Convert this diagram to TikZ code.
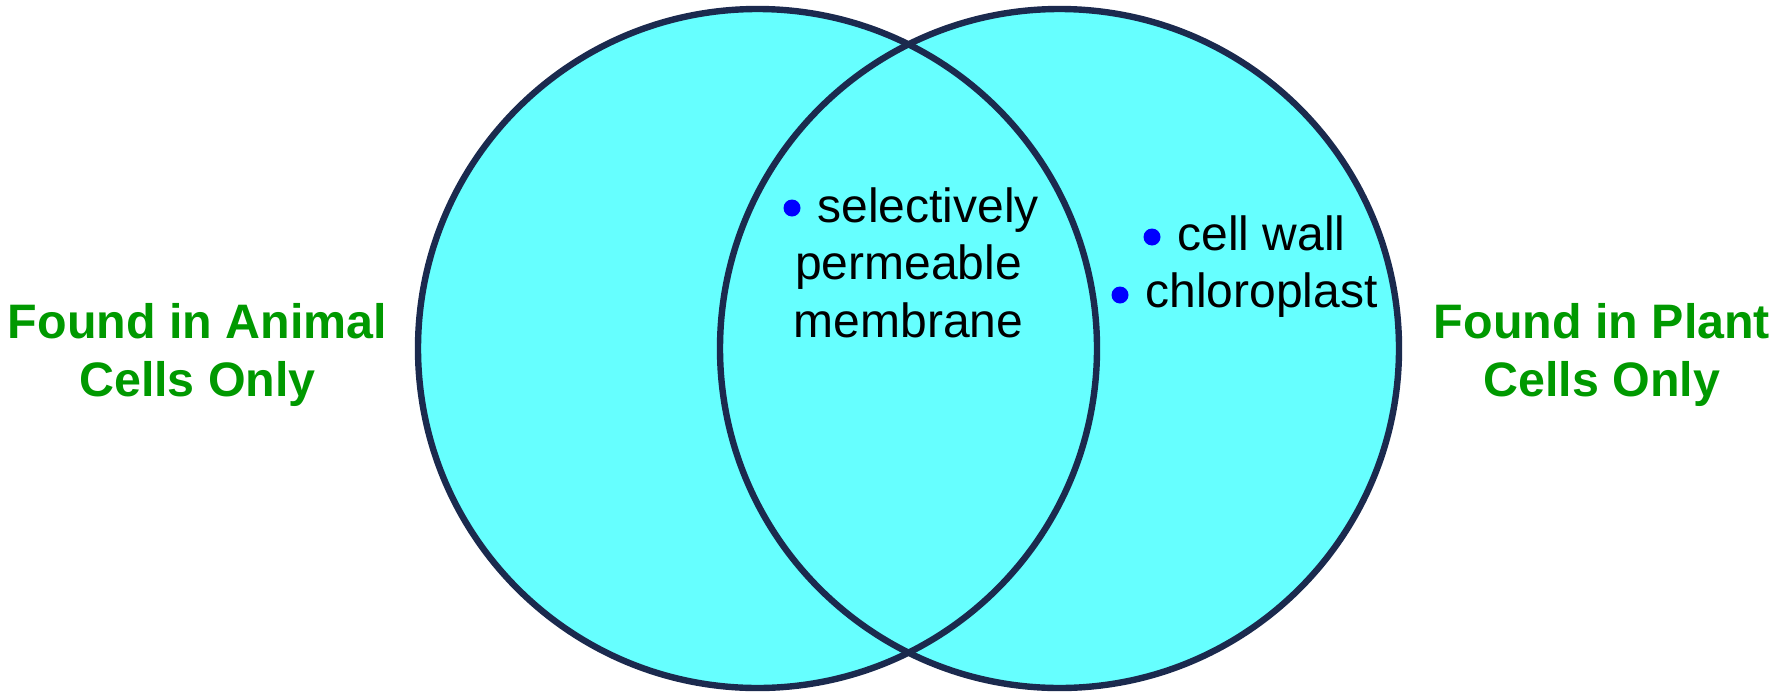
\documentclass[tikz,border=0pt]{standalone}
\usepackage{fontspec}
\setmainfont{Liberation Sans}
\definecolor{cellfill}{HTML}{66FFFF}
\definecolor{rim}{HTML}{1B2A4E}
\definecolor{dotblue}{HTML}{0000FF}
\definecolor{labelgreen}{HTML}{009900}
\tikzset{
  ring/.style={draw=rim, line width=3.2pt},
  item/.style={inner sep=0pt, font=\fontsize{24}{29}\selectfont, text=black},
  bulletdot/.style={fill=dotblue, draw=none},
  sidelabel/.style={inner sep=0pt, anchor=base, text=labelgreen,
    font=\fontsize{24.2}{29}\selectfont\bfseries},
}
\begin{document}
\begin{tikzpicture}[x=0.5pt,y=-0.5pt]
  \useasboundingbox (0,0) rectangle (1786,691);

  % the two overlapping cells: fills first, then both outlines
  \fill[cellfill] (757.5,348.5) circle[radius=169.75pt];
  \fill[cellfill] (1059.5,348.5) circle[radius=169.75pt];
  \draw[ring] (757.5,348.5) circle[radius=169.75pt];
  \draw[ring] (1059.5,348.5) circle[radius=169.75pt];

  % shared features
  \fill[bulletdot] (792,208) circle[radius=4.25pt];
  \node[item, anchor=base west] (sel) at (817,222) {selectively};
  \node[item, anchor=base] (perm) at (908.5,279) {permeable};
  \node[item, anchor=base] (memb) at (908.5,337) {membrane};

  % plant-only features
  \fill[bulletdot] (1152,237) circle[radius=4.25pt];
  \node[item, anchor=base west] (wall) at (1177,250) {cell wall};
  \fill[bulletdot] (1120,295) circle[radius=4.25pt];
  \node[item, anchor=base west] (chloro) at (1145,307) {chloroplast};

  % side captions
  \node[sidelabel] (animalA) at (197.5,338) {Found in Animal};
  \node[sidelabel] (animalB) at (197.5,396) {Cells Only};
  \node[sidelabel] (plantA) at (1602,338) {Found in Plant};
  \node[sidelabel] (plantB) at (1602,396) {Cells Only};
\end{tikzpicture}
\end{document}
